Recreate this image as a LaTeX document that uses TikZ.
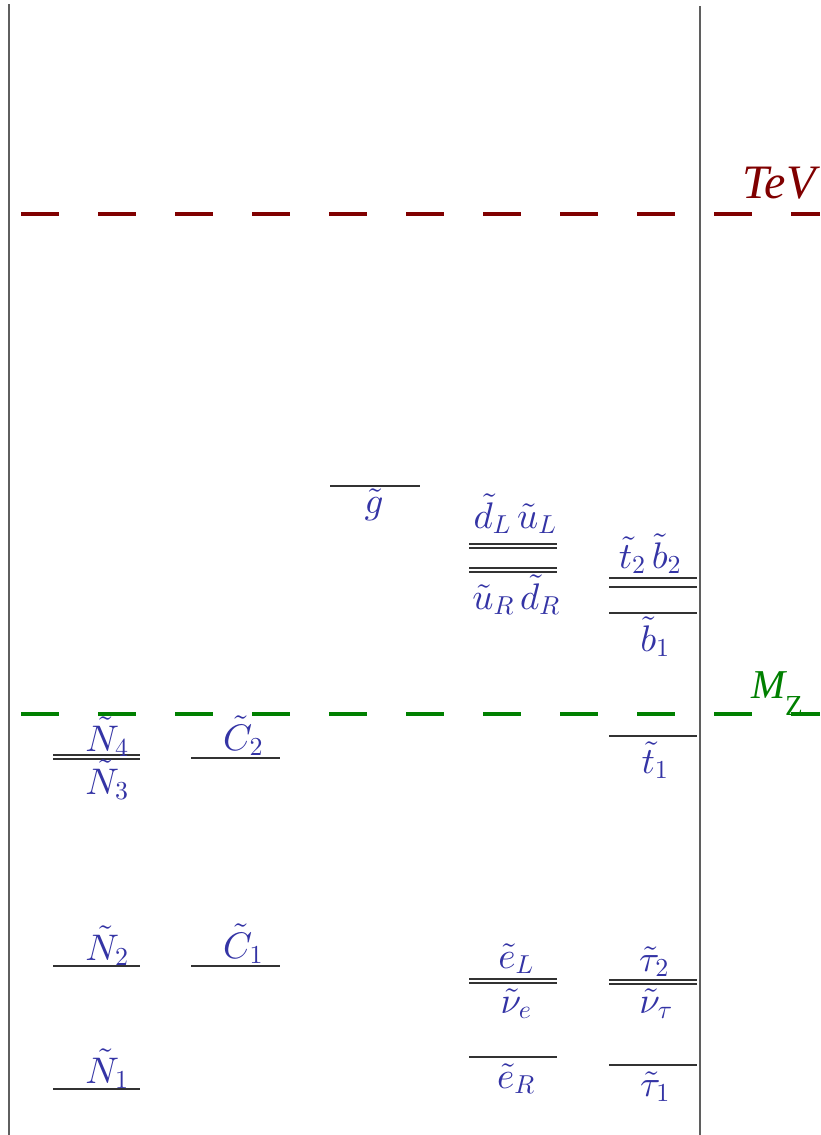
\RequirePackage{fix-cm}
\documentclass[tikz,border=0pt]{standalone}
\usepackage[no-math]{fontspec}
\DeclareFontShape{OML}{cmm}{m}{it}{<->cmmi10}{}
\DeclareFontShape{OT1}{cmr}{m}{n}{<->cmr10}{}
\newfontfamily\lserif{Liberation Serif}
\definecolor{labblue}{RGB}{52,52,165}
\definecolor{levgray}{RGB}{50,50,50}
\definecolor{vgray}{RGB}{95,95,95}
\definecolor{tevred}{RGB}{128,0,0}
\definecolor{mzgreen}{RGB}{0,128,0}
\tikzset{
  level/.style={draw=levgray, line width=1.6pt},
  vline/.style={draw=vgray, line width=1.5pt},
  scale line/.style={line width=4pt, dash pattern=on 38pt off 39pt},
  lab/.style={text=labblue, anchor=base, inner sep=0pt, font=\fontsize{37}{40}\selectfont},
  scalelab/.style={anchor=base, inner sep=0pt}
}
\begin{document}
\begin{tikzpicture}[x=1pt,y=-1pt]
\useasboundingbox (0,0) rectangle (820,1135);
% energy scale lines
\draw[scale line, tevred] (21,214) -- (820,214);
\draw[scale line, mzgreen] (21,714) -- (820,714);
% frame lines
\draw[vline] (9,4) -- (9,1135);
\draw[vline] (700,6) -- (700,1135);
% scale labels
\node[scalelab, text=tevred, font=\fontsize{48}{52}\selectfont\lserif\itshape] (tev) at (779,198) {TeV};
\node[scalelab, text=mzgreen] (mz) at (777,698) {{\fontsize{41}{44}\selectfont\lserif\itshape M}\raisebox{-17pt}{\fontsize{29}{30}\selectfont\lserif Z}};
% neutralinos
\draw[level] (53,755) -- (140,755);
\draw[level] (53,759) -- (140,759);
\draw[level] (53,966) -- (140,966);
\draw[level] (53,1089) -- (140,1089);
\node[lab] (n4) at (107,751) {$\tilde N_4$};
\node[lab] (n3) at (107,794) {$\tilde N_3$};
\node[lab] (n2) at (107,960) {$\tilde N_2$};
\node[lab] (n1) at (107,1083) {$\tilde N_1$};
% charginos
\draw[level] (191,758) -- (280,758);
\draw[level] (191,966) -- (280,966);
\node[lab] (c2) at (243,750) {$\tilde C_2$};
\node[lab] (c1) at (243,958) {$\tilde C_1$};
% gluino
\draw[level] (330,486) -- (420,486);
\node[lab] (gl) at (374,513) {$\tilde g$};
% squarks and sleptons
\draw[level] (469,544) -- (557,544);
\draw[level] (469,548) -- (557,548);
\draw[level] (469,568) -- (557,568);
\draw[level] (469,572) -- (557,572);
\draw[level] (469,979) -- (557,979);
\draw[level] (469,983) -- (557,983);
\draw[level] (469,1057) -- (557,1057);
\node[lab] (dLuL) at (515,528) {$\tilde d_L\,\tilde u_L$};
\node[lab] (uRdR) at (516,609) {$\tilde u_R\,\tilde d_R$};
\node[lab] (eL) at (516,968) {$\tilde e_L$};
\node[lab] (nue) at (516,1013) {$\tilde \nu_e$};
\node[lab] (eR) at (516,1088) {$\tilde e_R$};
% third generation
\draw[level] (609,578) -- (697,578);
\draw[level] (609,587) -- (697,587);
\draw[level] (609,613) -- (697,613);
\draw[level] (609,736) -- (697,736);
\draw[level] (609,980) -- (697,980);
\draw[level] (609,984) -- (697,984);
\draw[level] (609,1065) -- (697,1065);
\node[lab] (t2b2) at (650,568) {$\tilde t_2\,\tilde b_2$};
\node[lab] (b1) at (655,651) {$\tilde b_1$};
\node[lab] (t1) at (655,773) {$\tilde t_1$};
\node[lab] (tau2) at (654,971) {$\tilde \tau_2$};
\node[lab] (nutau) at (656,1013) {$\tilde \nu_\tau$};
\node[lab] (tau1) at (655,1096) {$\tilde \tau_1$};
\end{tikzpicture}
\end{document}
